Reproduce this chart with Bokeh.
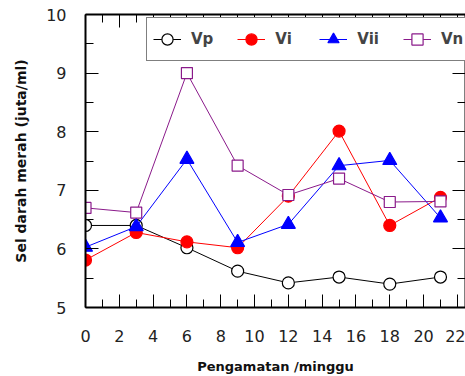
from bokeh.plotting import figure
from bokeh.models import (Range1d, LinearAxis, FixedTicker, Legend, LegendItem)
from bokeh.embed import file_html
from bokeh.resources import INLINE

weeks = [0, 3, 6, 9, 12, 15, 18, 21]
vp = [6.4, 6.4, 6.02, 5.62, 5.42, 5.52, 5.4, 5.52]
vi = [5.81, 6.28, 6.12, 6.02, 6.9, 8.01, 6.4, 6.88]
vii = [6.03, 6.38, 7.53, 6.11, 6.42, 7.42, 7.51, 6.53]
vn = [6.7, 6.62, 9.0, 7.42, 6.92, 7.2, 6.8, 6.81]
names = ["Vp", "Vi", "Vii", "Vn"]

x_major = [0, 2, 4, 6, 8, 10, 12, 14, 16, 18, 20, 22]
x_minor = [1, 3, 5, 7, 9, 11, 13, 15, 17, 19, 21]
y_major = [5, 6, 7, 8, 9, 10]
y_minor = [5.5, 6.5, 7.5, 8.5, 9.5]

FONT = "DejaVu Sans"

p = figure(width=465, height=376, output_backend="svg", toolbar_location=None,
           x_range=Range1d(0, 22.48), y_range=Range1d(5, 10),
           min_border_left=85, min_border_top=14, min_border_right=0,
           min_border_bottom=68, x_axis_label="Pengamatan /minggu",
           y_axis_label="Sel darah merah (juta/ml)")
p.outline_line_color = None
p.xgrid.visible = False
p.ygrid.visible = False

def style_axis(ax, labels=True):
    ax.axis_line_width = 2
    ax.axis_line_color = "black"
    ax.major_tick_in = 13
    ax.major_tick_out = 0
    ax.minor_tick_in = 8
    ax.minor_tick_out = 0
    ax.major_tick_line_color = "black"
    ax.minor_tick_line_color = "black"
    ax.major_tick_line_width = 1
    ax.minor_tick_line_width = 1
    if labels:
        ax.major_label_text_font = FONT
        ax.major_label_text_font_size = "16px"
        ax.major_label_text_color = "#222222"
        ax.axis_label_text_font = FONT
        ax.axis_label_text_font_style = "bold"
        ax.axis_label_text_font_size = "13px"
        ax.axis_label_text_color = "#111111"
    else:
        ax.major_label_text_font_size = "0px"
        ax.major_label_text_color = None

xt = FixedTicker(ticks=x_major, minor_ticks=x_minor)
yt = FixedTicker(ticks=y_major, minor_ticks=y_minor)

p.xaxis.ticker = xt
p.yaxis.ticker = yt
style_axis(p.xaxis[0])
style_axis(p.yaxis[0])
p.xaxis.major_label_standoff = 22
p.xaxis.axis_label_standoff = 14
p.yaxis.major_label_standoff = 19
p.yaxis.axis_label_standoff = 14
p.yaxis.axis_label_text_font_size = "14px"

top = LinearAxis(ticker=xt)
style_axis(top, labels=False)
p.add_layout(top, "above")
right = LinearAxis(ticker=yt)
style_axis(right, labels=False)
p.add_layout(right, "right")

series = [
    (vp, "black", "circle", "white", 12),
    (vi, "#ff0000", "circle", "#ff0000", 12),
    (vii, "#0000ff", "triangle", "#0000ff", 14),
    (vn, "#8a1a8a", "square", "white", 11),
]

items = []
for (vals, col, mk, fill, sz), nm in zip(series, names):
    ln = p.line(weeks, vals, line_color=col, line_width=1)
    sc = p.scatter(weeks, vals, marker=mk, size=sz, line_color=col,
                   fill_color=fill, line_width=1.2)
    items.append(LegendItem(label=nm, renderers=[ln, sc]))

legend = Legend(items=items, orientation="horizontal", location=(61, 246),
                glyph_width=28, glyph_height=30, padding=6, spacing=24,
                label_standoff=10, label_text_font=FONT,
                label_text_font_style="bold", label_text_font_size="15px",
                border_line_color="black", border_line_width=1.5,
                background_fill_color="white", background_fill_alpha=1.0,
                margin=0)
p.add_layout(legend, "center")

open("out.html", "w").write(file_html(p, INLINE))
